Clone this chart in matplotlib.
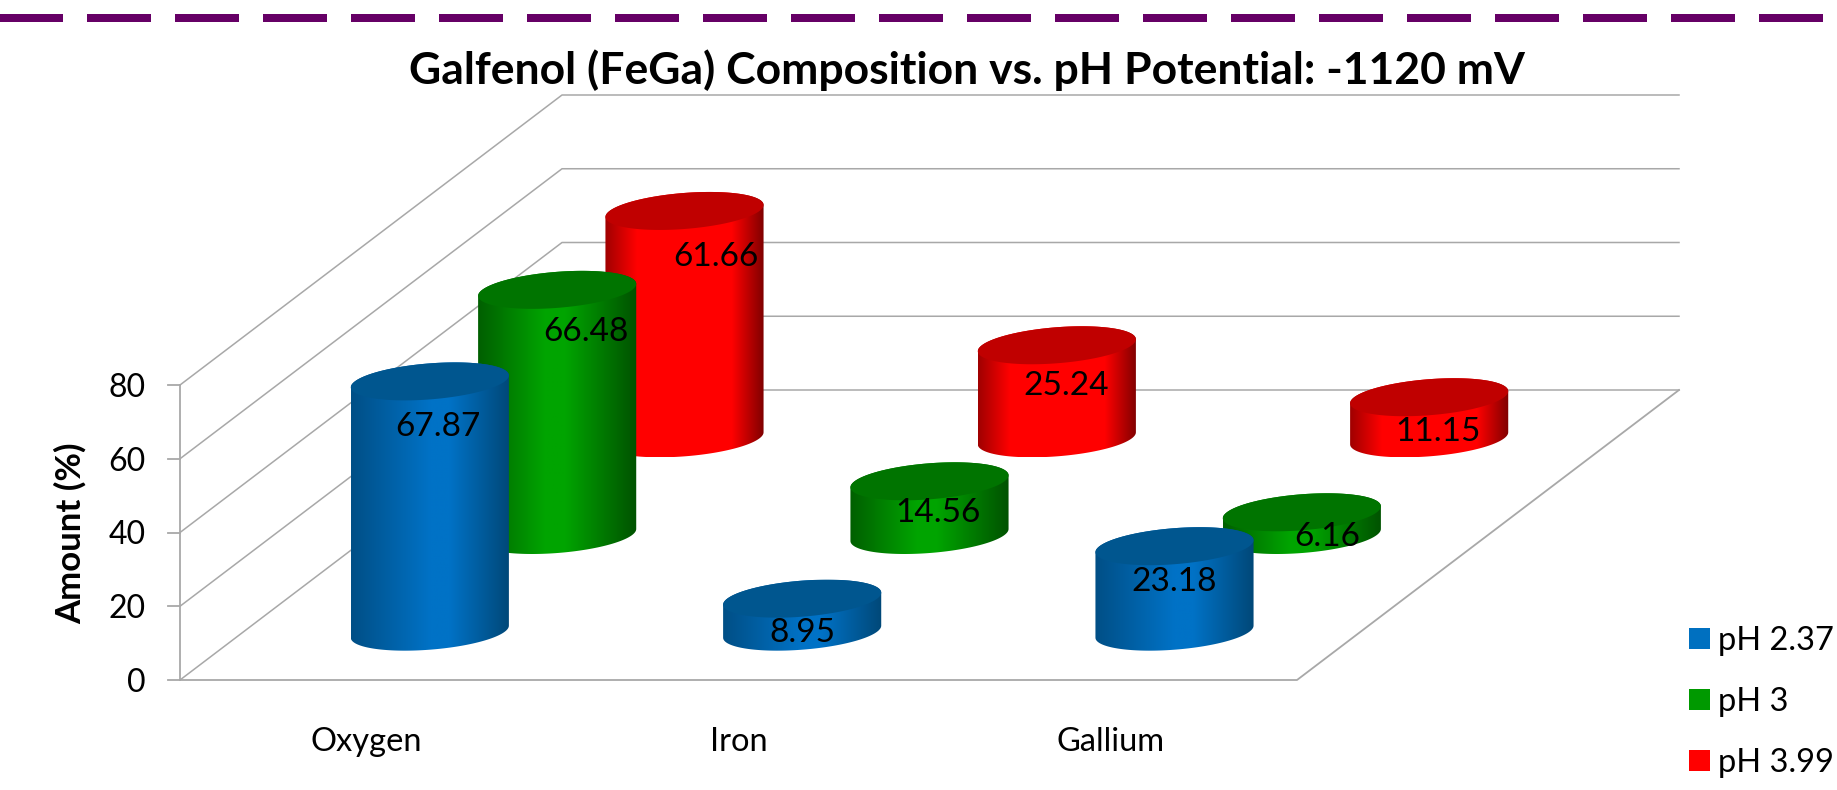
import numpy as np
import matplotlib
matplotlib.use('Agg')
import matplotlib.pyplot as plt
from matplotlib.patches import Polygon, Rectangle

plt.rcParams['font.family'] = ['Lato', 'DejaVu Sans']
plt.rcParams['lines.scale_dashes'] = False

categories = ['Oxygen', 'Iron', 'Gallium']
series_names = ['pH 2.37', 'pH 3', 'pH 3.99']
ph_237 = [67.87, 8.95, 23.18]
ph_3 = [66.48, 14.56, 6.16]
ph_399 = [61.66, 25.24, 11.15]
y_ticks = [0, 20, 40, 60, 80]
title = 'Galfenol (FeGa) Composition vs. pH Potential: -1120 mV'
y_label = 'Amount (%)'

series_values = [ph_237, ph_3, ph_399]

# kolory: (srodek, krawedz lewa, krawedz prawa, gora, legenda)
colors = [
    ('#0072C6', '#004F86', '#004878', '#00568F', '#0070C0'),
    ('#00A400', '#005F00', '#005200', '#007400', '#009900'),
    ('#FF0000', '#A00000', '#800000', '#C00000', '#FF0000'),
]

# gdzie gradient zaczyna i konczy jasny srodek
bright_zone = [(0.5, 0.62), (0.42, 0.55), (0.2, 0.8)]

# przesuniecia etykiet wzgledem srodka gornej elipsy (seria, kategoria)
label_offsets = [
    [(8, 46), (0, 34), (0, 36)],
    [(29, 42), (8, 32), (25, 25)],
    [(31, 46), (9, 41), (9, 35)],
]

# geometria rzutu w pikselach obrazka
X0, Y0 = 180, 680
FLOOR_W = 1117
DEPTH_X, DEPTH_Y = 382, 290
PX_PER_UNIT = 295 / 80
A, BX, BY = 75, 25, 19
GRID = '#A8A8A8'


def project(u, d, v):
    x = X0 + u * FLOOR_W + d * DEPTH_X
    y = Y0 - d * DEPTH_Y - v * PX_PER_UNIT
    return x, y


def ellipse(cx, cy, t):
    return cx + A * np.cos(t) + BX * np.sin(t), cy - BY * np.sin(t)


def hex2rgb(c):
    return np.array(matplotlib.colors.to_rgb(c))


def cylinder(ax, cx, cy_bottom, cy_top, col, zone):
    mid, left, right, top, _ = col
    t0 = np.arctan2(BX, A)
    t_low = np.linspace(t0 + np.pi, t0 + 2 * np.pi, 80)
    t_up = np.linspace(t0, t0 + np.pi, 80)
    xb, yb = ellipse(cx, cy_bottom, t_low)
    xt, yt = ellipse(cx, cy_top, t_up)
    xs = np.r_[xb, xt]
    ys = np.r_[yb, yt]

    # boczna sciana - gradient poziomy
    pos = np.array([0, zone[0], zone[1], 1.0])
    stops = np.array([hex2rgb(left), hex2rgb(mid), hex2rgb(mid), hex2rgb(right)])
    s = np.linspace(0, 1, 160)
    grad = np.stack([np.interp(s, pos, stops[:, i]) for i in range(3)], axis=1)[None, :, :]
    im = ax.imshow(grad, extent=(xs.min(), xs.max(), ys.max(), ys.min()),
                   aspect='auto', interpolation='bilinear', zorder=3)
    clip = Polygon(np.c_[xs, ys], closed=True, transform=ax.transData)
    im.set_clip_path(clip)

    # gorna elipsa
    t = np.linspace(0, 2 * np.pi, 160)
    xe, ye = ellipse(cx, cy_top, t)
    ax.add_patch(Polygon(np.c_[xe, ye], closed=True, facecolor=top, edgecolor='none', zorder=3))


fig = plt.figure(figsize=(18.37, 7.9), dpi=100)
ax = fig.add_axes([0, 0, 1, 1])

# przerywana linia u gory
ax.plot([-32, 1837], [18, 18], color='#660066', linewidth=5.76,
        linestyle=(0, (46.08, 17.28)), dash_capstyle='butt', zorder=1)

# siatka i osie
for v in y_ticks:
    x1, y1 = project(0, 0, v)
    x2, y2 = project(0, 1, v)
    x3, y3 = project(1, 1, v)
    ax.plot([x1, x2, x3], [y1, y2, y3], color=GRID, linewidth=1.1, zorder=1)
    ax.plot([x1 - 12, x1], [y1, y1], color=GRID, linewidth=1.3, zorder=1)
    ax.text(146, y1 + 3, str(v), ha='right', va='center', fontsize=23, color='black')

x1, y1 = project(0, 0, 0)
x2, y2 = project(0, 0, y_ticks[-1])
ax.plot([x1, x2], [y1, y2], color=GRID, linewidth=1.3, zorder=1)
x2, y2 = project(1, 0, 0)
x3, y3 = project(1, 1, 0)
ax.plot([x1, x2, x3], [y1, y2, y3], color=GRID, linewidth=1.3, zorder=1)

# walce od tylu do przodu
n_cat = len(categories)
n_ser = len(series_names)
for j in reversed(range(n_ser)):
    d = (j + 0.5) / n_ser
    for i in range(n_cat):
        u = (i + 0.5) / n_cat
        val = series_values[j][i]
        cx, cy_b = project(u, d, 0)
        _, cy_t = project(u, d, val)
        cylinder(ax, cx, cy_b, cy_t, colors[j], bright_zone[j])
        dx, dy = label_offsets[j][i]
        ax.text(cx + dx, cy_t + dy, f'{val:.2f}', ha='center', va='center',
                fontsize=24, color='black', zorder=4)

# etykiety kategorii
for i, name in enumerate(categories):
    x, _ = project((i + 0.5) / n_cat, 0, 0)
    ax.text(x, 742, name, ha='center', va='center', fontsize=23.5, color='black')

ax.text(967, 70, title, ha='center', va='center', fontsize=32, fontweight='bold', color='black')
ax.text(70, 533, y_label, rotation=90, ha='center', va='center', fontsize=25,
        fontweight='bold', color='black')

# legenda
for k, name in enumerate(series_names):
    yy = 628 + k * 61
    ax.add_patch(Rectangle((1689, yy), 21, 21, facecolor=colors[k][4], edgecolor='none'))
    ax.text(1718, yy + 13, name, ha='left', va='center', fontsize=23.5, color='black')

ax.set_xlim(0, 1837)
ax.set_ylim(790, 0)
ax.axis('off')

fig.savefig('out.png', dpi=100, facecolor='white')
